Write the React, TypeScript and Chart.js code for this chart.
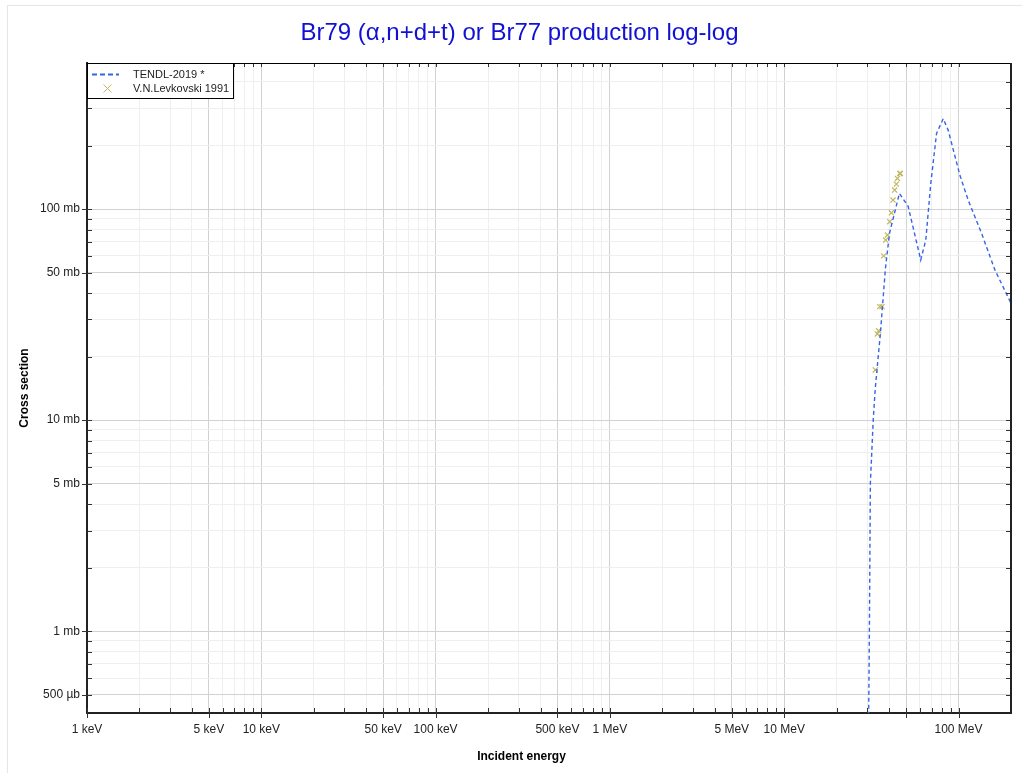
import { useEffect, useRef } from 'react';
import { Chart, registerables } from 'chart.js';

Chart.register(...registerables);

const TITLE = 'Br79 (α,n+d+t) or Br77 production log-log';
const X_TITLE = 'Incident energy';
const Y_TITLE = 'Cross section';

const tendlLabel = 'TENDL-2019 *';
const tendlEnergyMeV = [30.3, 30.8, 31.2, 32.4, 33.3, 35.6, 36.6, 38.1, 40.2, 45.8, 51.4, 60.7, 64.9, 69.3, 74.8, 81.7, 87.3, 101.7, 113.7, 135.5, 161.7, 200];
const tendlXsMb = [0.2, 1, 5, 10, 14.2, 25.6, 34.4, 52.6, 77.0, 118.7, 103, 57.4, 71.3, 132, 228, 268, 236, 145, 110, 76.8, 51.5, 35.8];

const expLabel = 'V.N.Levkovski 1991';
const expEnergyMeV = [33.3, 34.2, 34.8, 35.3, 36.4, 37.2, 38.2, 39.1, 40.3, 41.2, 42.1, 43.0, 44.0, 44.6, 46.0, 46.4];
const expXsMb = [17.3, 25.6, 26.5, 34.5, 34.5, 60.0, 71.3, 75.4, 87.1, 96.0, 110.3, 123, 131.3, 139.7, 147.5, 147.5];

const X_MIN_EV = 1e3;
const X_MAX_EV = 2e8;
const Y_MIN_MB = 0.41;
const Y_MAX_MB = 492;
const X_HIDDEN_LABELS = [5e7];
const MANTISSAS = [1, 2, 3, 4, 5, 6, 7, 8, 9];
const LABELLED_MANTISSAS = [1, 5];

const FONT = "'Liberation Sans', Arial, Helvetica, sans-serif";
const LINE_COLOR = 'rgb(55,100,230)';
const MARK_COLOR = 'rgb(192,184,96)';
const TITLE_COLOR = 'rgb(17,17,210)';

function logTicks(min: number, max: number): number[] {
  const out: number[] = [];
  const lo = Math.floor(Math.log10(min)) - 1;
  const hi = Math.ceil(Math.log10(max)) + 1;
  for (let n = lo; n <= hi; n++) {
    for (const m of MANTISSAS) {
      const v = m * Math.pow(10, n);
      if (v >= min * 0.9999 && v <= max * 1.0001) out.push(v);
    }
  }
  return out;
}

function mantissa(v: number): number {
  const e = Math.floor(Math.log10(v) + 1e-9);
  return v / Math.pow(10, e);
}

function isMajor(v: number): boolean {
  const m = mantissa(v);
  return LABELLED_MANTISSAS.some((k) => Math.abs(m - k) < 1e-6);
}

function xLabel(v: number): string {
  if (!isMajor(v)) return '';
  if (X_HIDDEN_LABELS.some((h) => Math.abs(h - v) / h < 1e-6)) return '';
  if (v < 1e6) return `${Math.round(v / 1e3)} keV`;
  return `${Math.round(v / 1e6)} MeV`;
}

function yLabel(v: number): string {
  if (!isMajor(v)) return '';
  if (v < 1) return `${Math.round(v * 1000)} µb`;
  return `${Math.round(v)} mb`;
}

const gridColor = (c: any) => (c.tick && isMajor(c.tick.value) ? '#d2d2d2' : '#efefef');

const framePlugin = {
  id: 'frameTicks',
  afterDatasetsDraw(chart: any) {
    const { ctx, chartArea } = chart;
    const { left, right, top, bottom } = chartArea;
    const xs = chart.scales.x;
    const ys = chart.scales.y;
    ctx.save();
    ctx.strokeStyle = '#333';
    ctx.lineWidth = 1;
    const seg = (x1: number, y1: number, x2: number, y2: number) => {
      ctx.beginPath();
      ctx.moveTo(x1, y1);
      ctx.lineTo(x2, y2);
      ctx.stroke();
    };
    xs.ticks.forEach((t: any) => {
      const px = Math.round(xs.getPixelForValue(t.value)) + 0.5;
      const major = isMajor(t.value);
      seg(px, bottom - 5, px, bottom + (major ? 5 : 0));
      seg(px, top, px, top + 4);
    });
    ys.ticks.forEach((t: any) => {
      const py = Math.round(ys.getPixelForValue(t.value)) + 0.5;
      const major = isMajor(t.value);
      seg(left - (major ? 5 : 0), py, left + 5, py);
      seg(right - 5, py, right, py);
    });
    ctx.strokeStyle = '#000';
    seg(left, top + 0.5, right, top + 0.5);
    ctx.strokeStyle = '#222';
    ctx.lineWidth = 2;
    seg(right, top, right, bottom + 1);
    ctx.restore();
  },
  afterDraw(chart: any) {
    const { ctx, chartArea } = chart;
    const { left, top } = chartArea;
    ctx.save();
    // title
    ctx.fillStyle = TITLE_COLOR;
    ctx.font = `24px ${FONT}`;
    ctx.textAlign = 'center';
    ctx.textBaseline = 'middle';
    ctx.fillText(TITLE, 519.5, 33);
    // legend
    const lw = 146;
    const lh = 35;
    ctx.fillStyle = '#fff';
    ctx.fillRect(left, top, lw, lh);
    ctx.strokeStyle = '#000';
    ctx.lineWidth = 1;
    ctx.strokeRect(left + 0.5, top + 0.5, lw, lh);
    const ds = chart.data.datasets;
    ctx.font = `11px ${FONT}`;
    ctx.textBaseline = 'middle';
    ctx.textAlign = 'left';
    const r1 = top + 11.5;
    ctx.strokeStyle = ds[0].borderColor;
    ctx.lineWidth = 2;
    ctx.setLineDash([5, 3]);
    ctx.beginPath();
    ctx.moveTo(left + 5, r1);
    ctx.lineTo(left + 32, r1);
    ctx.stroke();
    ctx.setLineDash([]);
    ctx.fillStyle = '#222';
    ctx.fillText(ds[0].label, left + 46, r1);
    const r2 = top + 25.5;
    const cx = left + 20.5;
    ctx.strokeStyle = ds[1].borderColor;
    ctx.lineWidth = 1;
    ctx.beginPath();
    ctx.moveTo(cx - 4, r2 - 4);
    ctx.lineTo(cx + 4, r2 + 4);
    ctx.moveTo(cx - 4, r2 + 4);
    ctx.lineTo(cx + 4, r2 - 4);
    ctx.stroke();
    ctx.fillText(ds[1].label, left + 46, r2);
    // axis titles
    ctx.fillStyle = '#000';
    ctx.font = `bold 12px ${FONT}`;
    ctx.textAlign = 'center';
    ctx.fillText(X_TITLE, 521.5, 757);
    ctx.translate(25, (chartArea.top + chartArea.bottom) / 2);
    ctx.rotate(-Math.PI / 2);
    ctx.fillText(Y_TITLE, 0, 0);
    ctx.restore();
  },
};

export default function App() {
  const ref = useRef<HTMLCanvasElement>(null);
  useEffect(() => {
    if (!ref.current) return;
    const xTickValues = logTicks(X_MIN_EV, X_MAX_EV);
    const yTickValues = logTicks(Y_MIN_MB, Y_MAX_MB);
    const chart = new Chart(ref.current, {
      type: 'scatter',
      data: {
        datasets: [
          {
            label: tendlLabel,
            data: tendlEnergyMeV.map((e, i) => ({ x: e * 1e6, y: tendlXsMb[i] })),
            showLine: true,
            borderColor: LINE_COLOR,
            backgroundColor: LINE_COLOR,
            borderWidth: 1.4,
            borderDash: [4, 3],
            pointRadius: 0,
            tension: 0,
            fill: false,
          } as any,
          {
            label: expLabel,
            data: expEnergyMeV.map((e, i) => ({ x: e * 1e6, y: expXsMb[i] })),
            showLine: false,
            pointStyle: 'crossRot',
            pointRadius: 3.6,
            borderColor: MARK_COLOR,
            backgroundColor: MARK_COLOR,
            borderWidth: 1.2,
          } as any,
        ],
      },
      options: {
        animation: false,
        responsive: false,
        devicePixelRatio: 1,
        layout: { padding: { left: 0, right: 29, top: 63, bottom: 0 } },
        plugins: {
          legend: { display: false },
          tooltip: { enabled: false },
          title: { display: false },
        },
        scales: {
          x: {
            type: 'logarithmic',
            position: 'bottom',
            min: X_MIN_EV,
            max: X_MAX_EV,
            bounds: 'data',
            afterBuildTicks: (s: any) => {
              s.ticks = xTickValues.map((v) => ({ value: v }));
            },
            afterFit: (s: any) => {
              s.height = 60;
            },
            ticks: {
              autoSkip: false,
              maxRotation: 0,
              minRotation: 0,
              padding: 9,
              color: '#222',
              font: { size: 12, family: FONT },
              callback: (v: any) => xLabel(Number(v)),
            },
            grid: { color: gridColor, lineWidth: 1, drawTicks: false },
            border: { display: true, color: '#222', width: 2 },
          },
          y: {
            type: 'logarithmic',
            position: 'left',
            min: Y_MIN_MB,
            max: Y_MAX_MB,
            bounds: 'data',
            afterBuildTicks: (s: any) => {
              s.ticks = yTickValues.map((v) => ({ value: v }));
            },
            afterFit: (s: any) => {
              s.width = 87;
            },
            ticks: {
              autoSkip: false,
              padding: 7,
              color: '#222',
              font: { size: 12, family: FONT },
              callback: (v: any) => yLabel(Number(v)),
            },
            grid: { color: gridColor, lineWidth: 1, drawTicks: false },
            border: { display: true, color: '#222', width: 2 },
          },
        },
      } as any,
      plugins: [framePlugin],
    });
    return () => chart.destroy();
  }, []);

  return (
    <div
      style={{
        position: 'fixed',
        left: 0,
        top: 0,
        width: 1022,
        height: 773,
        overflow: 'hidden',
        background: '#fff',
      }}
    >
      <div
        style={{
          position: 'absolute',
          left: 7,
          top: 5,
          width: 1100,
          height: 900,
          border: '1px solid #e6e6e6',
        }}
      />
      <canvas
        ref={ref}
        width={1040}
        height={773}
        style={{ position: 'absolute', left: 0, top: 0, width: 1040, height: 773 }}
      />
    </div>
  );
}
